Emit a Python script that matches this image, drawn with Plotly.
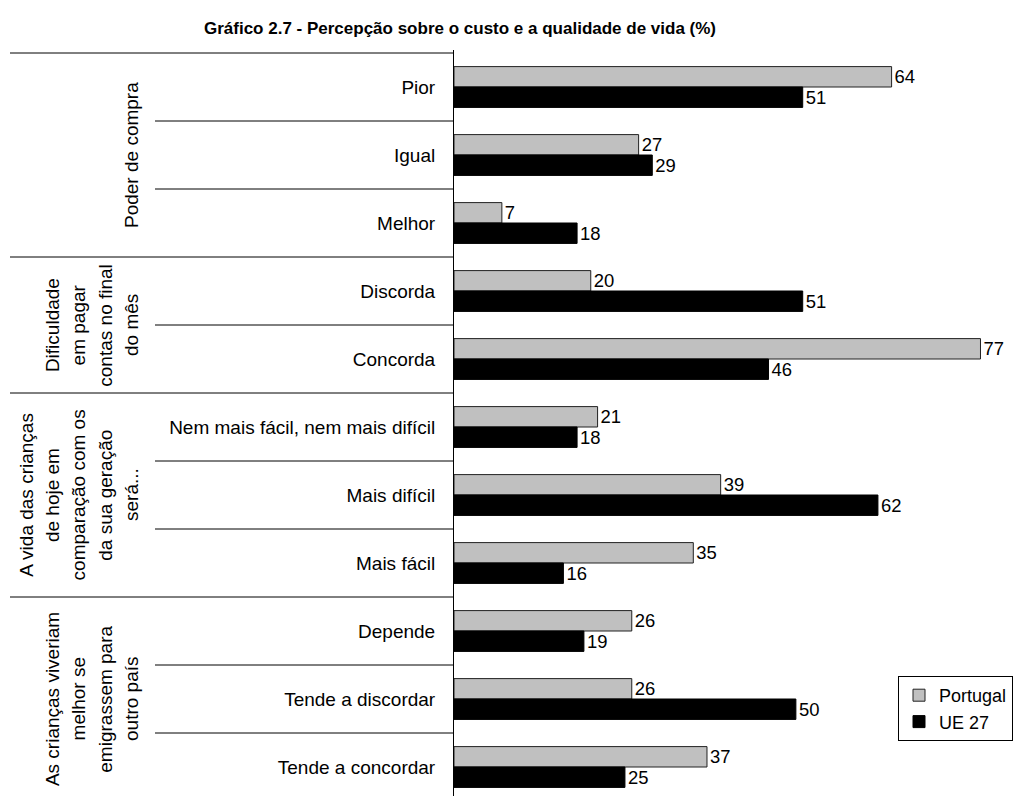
import plotly.graph_objects as go

categories = ["Pior", "Igual", "Melhor", "Discorda", "Concorda",
              "Nem mais fácil, nem mais difícil", "Mais difícil", "Mais fácil",
              "Depende", "Tende a discordar", "Tende a concordar"]
portugal = [64, 27, 7, 20, 77, 21, 39, 35, 26, 26, 37]
ue27 = [51, 29, 18, 51, 46, 18, 62, 16, 19, 50, 25]
group_sizes = [3, 2, 3, 3]
group_labels = [
    ["Poder de compra"],
    ["Dificuldade", "em pagar", "contas no final", "do mês"],
    ["A vida das crianças", "de hoje em", "comparação com os", "da sua geração", "será..."],
    ["As crianças viveriam", "melhor se", "emigrassem para", "outro país"],
]
title = "Gráfico 2.7 - Percepção sobre o custo e a qualidade de vida (%)"

FONT = "Liberation Sans, Arial, sans-serif"
FS = 19
W, H = 1019, 796
ML, MR, MT, MB = 454, 18, 50, 0
PW = W - ML - MR
PH = H - MT - MB
UNIT = 68.0
y_top = -0.5 - 3 / UNIT
y_bot = y_top + PH / UNIT

pos = list(range(len(categories)))

fig = go.Figure()
fig.add_trace(go.Bar(
    y=pos, x=portugal, orientation="h", name="Portugal",
    marker=dict(color="#c0c0c0", line=dict(color="#222222", width=1)),
    text=portugal, textposition="outside", cliponaxis=False,
    textfont=dict(family=FONT, size=FS, color="black"),
))
fig.add_trace(go.Bar(
    y=pos, x=ue27, orientation="h", name="UE 27",
    marker=dict(color="#000000", line=dict(color="#000000", width=1)),
    text=ue27, textposition="outside", cliponaxis=False,
    textfont=dict(family=FONT, size=FS, color="black"),
))

def px_to_paper_x(px):
    return (px - ML) / PW

shapes = []
group_bounds = [0]
for s in group_sizes:
    group_bounds.append(group_bounds[-1] + s)
for k in range(len(categories) + 1):
    x0 = 10 if k in group_bounds else 155
    shapes.append(dict(type="line", xref="paper", yref="y",
                       x0=px_to_paper_x(x0), x1=0, y0=k - 0.5, y1=k - 0.5,
                       line=dict(color="black", width=1)))

annotations = []
for g, lines in enumerate(group_labels):
    yc = (group_bounds[g] + group_bounds[g + 1]) / 2 - 0.5
    n = len(lines)
    for j, line in enumerate(lines):
        xpx = 131 - (n - 1 - j) * 26.3
        annotations.append(dict(
            text=line, xref="paper", yref="y", x=px_to_paper_x(xpx), y=yc,
            textangle=-90, showarrow=False, xanchor="center", yanchor="middle",
            font=dict(family=FONT, size=FS, color="black")))

fig.update_layout(
    width=W, height=H,
    margin=dict(l=ML, r=MR, t=MT, b=MB),
    plot_bgcolor="white", paper_bgcolor="white",
    barmode="group", bargap=0.4, bargroupgap=0,
    title=dict(text="<b>" + title + "</b>", xref="container", yref="container",
               x=460 / W, y=1 - 28 / H, xanchor="center", yanchor="middle",
               font=dict(family=FONT, size=17, color="black")),
    xaxis=dict(range=[0, 80], visible=False, showgrid=False, zeroline=False),
    yaxis=dict(range=[y_bot, y_top], tickvals=pos, ticktext=categories,
               showline=True, linecolor="black", linewidth=1, ticks="",
               showgrid=False, zeroline=False, ticklabelstandoff=14,
               tickfont=dict(family=FONT, size=FS, color="black")),
    legend=dict(x=px_to_paper_x(898), y=1 - (676 - MT) / PH,
                xanchor="left", yanchor="top",
                bordercolor="black", borderwidth=1, bgcolor="white",
                font=dict(family=FONT, size=18, color="black"),
                tracegroupgap=0, itemwidth=30),
    shapes=shapes, annotations=annotations,
    showlegend=True,
)

fig.write_html("out.html", config={"displayModeBar": False},
               post_script="document.body.style.margin='0';")
